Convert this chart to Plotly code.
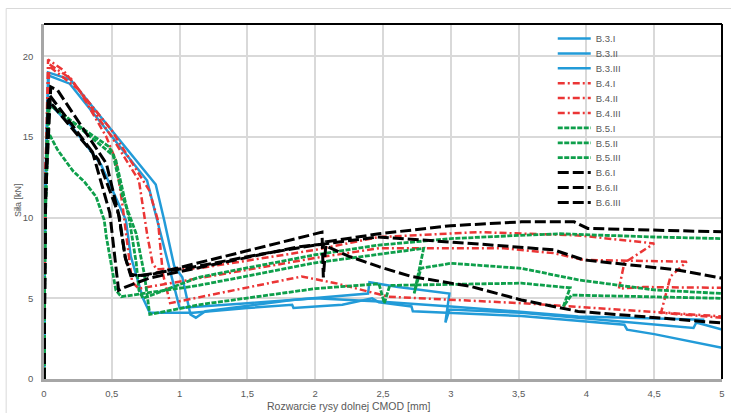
import plotly.graph_objects as go

# ---------------- data ----------------
series_names = ["B.3.I", "B.3.II", "B.3.III", "B.4.I", "B.4.II", "B.4.III",
                "B.5.I", "B.5.II", "B.5.III", "B.6.I", "B.6.II", "B.6.III"]

b3_1_x = [0, 0.008, 0.03, 0.195, 0.824, 0.886, 0.96, 1.02, 1.08, 1.12, 1.19, 1.83, 2.39, 2.40, 2.61, 2.99, 2.96, 2.99, 3.52, 4.79, 4.81, 5.0]
b3_1_y = [0, 10.0, 19.0, 18.55, 12.05, 9.85, 7.0, 6.3, 4.0, 3.8, 4.2, 4.9, 5.3, 6.0, 5.7, 5.3, 3.5, 4.3, 4.1, 3.16, 3.5, 3.06]
b3_2_x = [0, 0.008, 0.025, 0.21, 0.42, 0.604, 0.64, 0.73, 0.78, 1.1, 1.5, 1.83, 1.84, 2.2, 2.42, 2.47, 2.71, 2.72, 3.52, 4.28, 4.30, 4.5, 5.0]
b3_2_y = [0, 9.0, 17.2, 15.6, 13.3, 9.85, 7.6, 5.0, 4.1, 4.1, 4.4, 4.6, 4.4, 4.6, 5.0, 4.75, 4.5, 4.2, 3.9, 3.36, 3.06, 2.78, 1.93]
b3_3_x = [0, 0.008, 0.035, 0.19, 0.76, 0.83, 0.92, 0.97, 1.0, 1.5, 2.0, 2.47, 3.0, 3.94, 4.87]
b3_3_y = [0, 12.0, 18.8, 18.3, 12.3, 10.0, 7.0, 5.3, 4.4, 4.7, 5.0, 4.8, 4.5, 3.88, 3.67]

b4_1_x = [0, 0.01, 0.03, 0.14, 0.5, 0.775, 0.84, 0.876, 0.93, 1.4, 1.9, 2.15, 2.54, 3.52, 4.23, 5.0]
b4_1_y = [0, 12.0, 19.8, 19.15, 15.4, 11.7, 9.85, 6.55, 4.7, 5.5, 6.35, 5.94, 5.1, 4.7, 4.3, 3.88]
b4_2_x = [0, 0.01, 0.035, 0.26, 0.46, 0.53, 0.58, 0.62, 0.65, 0.7, 1.14, 2.0, 2.47, 3.39, 3.76, 3.98, 4.74, 4.62, 4.55, 5.0]
b4_2_y = [0, 11.0, 19.4, 17.9, 15.0, 13.55, 10.7, 8.0, 6.0, 5.6, 6.25, 7.5, 8.1, 8.1, 7.8, 7.38, 7.27, 6.35, 4.1, 3.8]
b4_3_x = [0, 0.01, 0.04, 0.2, 0.5, 0.70, 0.76, 0.80, 0.83, 1.14, 2.0, 2.47, 3.2, 3.94, 4.5, 4.28, 4.24, 4.42, 5.0]
b4_3_y = [0, 13.0, 19.5, 18.6, 15.0, 12.3, 9.0, 7.2, 6.8, 6.86, 8.0, 8.8, 9.1, 8.9, 8.4, 7.2, 5.6, 5.7, 5.65]

b5_1_x = [0, 0.008, 0.03, 0.2, 0.48, 0.53, 0.63, 0.68, 0.70, 0.73, 1.14, 2.0, 2.47, 3.0, 3.5, 3.8, 4.5, 5.0]
b5_1_y = [0, 10.0, 17.05, 16.0, 14.4, 13.55, 9.85, 7.2, 5.5, 5.0, 6.3, 7.7, 8.3, 8.7, 8.9, 9.0, 8.8, 8.7]
b5_2_x = [0, 0.008, 0.025, 0.1, 0.213, 0.3, 0.384, 0.444, 0.46, 0.5, 0.53, 0.57, 1.14, 2.0, 2.54, 2.8, 2.73, 2.78, 3.0, 3.52, 3.94, 4.5, 5.0]
b5_2_y = [0, 9.0, 15.4, 14.2, 12.9, 12.2, 11.3, 9.85, 8.8, 6.96, 5.5, 5.1, 5.8, 7.2, 7.8, 8.1, 5.3, 6.86, 7.17, 6.86, 6.14, 5.52, 5.3]
b5_3_x = [0, 0.008, 0.04, 0.2, 0.51, 0.58, 0.68, 0.74, 0.78, 1.14, 2.0, 2.47, 2.51, 2.55, 3.52, 3.88, 3.83, 3.89, 5.0]
b5_3_y = [0, 10.0, 17.1, 16.0, 13.86, 11.3, 9.0, 6.5, 4.0, 4.6, 5.6, 5.9, 4.7, 5.8, 5.94, 5.65, 4.5, 5.2, 5.0]

b6_1_x = [0, 0.01, 0.05, 0.1, 0.46, 0.555, 0.6, 0.64, 0.78, 1.14, 1.64, 2.05, 2.06, 2.08, 2.47, 3.0, 3.52, 3.91, 4.01, 5.0]
b6_1_y = [0, 11.0, 18.1, 17.9, 13.35, 10.05, 7.5, 6.4, 6.45, 7.2, 8.2, 9.1, 6.3, 8.5, 9.0, 9.5, 9.74, 9.74, 9.33, 9.12]
b6_2_x = [0, 0.01, 0.03, 0.36, 0.485, 0.53, 0.55, 0.6, 0.78, 1.14, 1.88, 2.05, 2.25, 2.47, 2.71, 3.15, 3.52, 3.94, 4.55, 5.0]
b6_2_y = [0, 10.0, 17.3, 14.0, 10.3, 7.0, 5.5, 5.7, 6.26, 6.9, 8.2, 8.35, 7.6, 6.96, 6.35, 5.73, 4.9, 4.19, 3.78, 3.47]
b6_3_x = [0, 0.01, 0.04, 0.4, 0.55, 0.6, 0.64, 0.7, 1.14, 1.64, 2.0, 2.46, 3.15, 3.76, 3.98, 4.67, 5.0]
b6_3_y = [0, 12.0, 17.6, 13.6, 10.2, 7.5, 6.5, 6.4, 7.0, 7.8, 8.3, 8.8, 8.4, 8.0, 7.38, 6.76, 6.25]

x_tick_vals = [0, 0.5, 1, 1.5, 2, 2.5, 3, 3.5, 4, 4.5, 5]
x_tick_text = ["0", "0,5", "1", "1,5", "2", "2,5", "3", "3,5", "4", "4,5", "5"]
y_tick_vals = [0, 5, 10, 15, 20]

# ---------------- styling ----------------
all_x = [b3_1_x, b3_2_x, b3_3_x, b4_1_x, b4_2_x, b4_3_x, b5_1_x, b5_2_x, b5_3_x, b6_1_x, b6_2_x, b6_3_x]
all_y = [b3_1_y, b3_2_y, b3_3_y, b4_1_y, b4_2_y, b4_3_y, b5_1_y, b5_2_y, b5_3_y, b6_1_y, b6_2_y, b6_3_y]

BLUE, RED, GREEN, BLACK = "#229BD8", "#EB3535", "#0E9F4B", "#000000"
group_style = [
    (BLUE, "solid", 2.5),
    (RED, "7px,3px,2px,3px", 2.5),
    (GREEN, "5px,1.5px", 2.8),
    (BLACK, "11px,4px", 3),
]

W, H = 731, 413
L, R, T, B = 44, 6, 24, 34
plot_w = W - L - R
plot_h = H - T - B

fig = go.Figure()
legend_layouts = {}
legend_first_py = 38.5
legend_step = 14.9
legend_left_px = 555

for i, name in enumerate(series_names):
    color, dash, width = group_style[i // 3]
    lname = "legend" if i == 0 else f"legend{i + 1}"
    fig.add_trace(go.Scatter(
        x=all_x[i], y=all_y[i], mode="lines", name=name,
        line=dict(color=color, dash=dash, width=width),
        legend=lname, showlegend=True,
    ))
    py = legend_first_py + i * legend_step
    legend_layouts[lname] = dict(
        x=(legend_left_px - L) / plot_w,
        y=(H - B - py) / plot_h,
        xanchor="left", yanchor="middle",
        bgcolor="rgba(0,0,0,0)", borderwidth=0,
        font=dict(family="Liberation Sans", size=9.5, color="#595959"),
        itemwidth=33, tracegroupgap=0,
    )

fig.update_layout(
    width=W, height=H,
    margin=dict(l=L, r=R, t=T, b=B),
    paper_bgcolor="white", plot_bgcolor="white",
    font=dict(family="Liberation Sans", size=9.5, color="#595959"),
    showlegend=True,
    **legend_layouts,
)

fig.update_xaxes(
    range=[0, 5], tickvals=x_tick_vals, ticktext=x_tick_text,
    showgrid=True, gridcolor="#D9D9D9", gridwidth=1.5,
    showline=True, linecolor="#A6A6A6", linewidth=2.5,
    ticks="outside", ticklen=4, tickcolor="rgba(0,0,0,0)",
    zeroline=False, tickfont=dict(size=9.5, color="#595959"),
)
fig.update_yaxes(
    range=[0, 22], tickvals=y_tick_vals,
    showgrid=True, gridcolor="#D9D9D9", gridwidth=1.5,
    showline=True, linecolor="#A6A6A6", linewidth=2.5,
    ticks="outside", ticklen=6, tickcolor="rgba(0,0,0,0)",
    zeroline=False, tickfont=dict(size=9.5, color="#595959"),
)

# frame: black top and right borders, light outer chart border
fig.add_shape(type="line", xref="paper", yref="paper", x0=0, x1=1, y0=1, y1=1,
              line=dict(color="black", width=2))
fig.add_shape(type="line", xref="paper", yref="paper", x0=1, x1=1, y0=0, y1=1,
              line=dict(color="black", width=2))
fig.add_shape(type="rect", xref="paper", yref="paper",
              x0=(6 - L) / plot_w, x1=(760 - L) / plot_w,
              y0=(H - B - 440) / plot_h, y1=(H - B - 8.5) / plot_h,
              line=dict(color="#D9D9D9", width=1), layer="below")

fig.add_annotation(text="Rozwarcie rysy dolnej CMOD [mm]", xref="paper", yref="paper",
                   x=(350 - L) / plot_w, y=(H - B - 406) / plot_h,
                   showarrow=False, xanchor="center", yanchor="middle",
                   font=dict(size=10.5, color="#595959"))
fig.add_annotation(text="Siła [kN]", xref="paper", yref="paper",
                   x=(18 - L) / plot_w, y=(H - B - 200) / plot_h, textangle=-90,
                   showarrow=False, xanchor="center", yanchor="middle",
                   font=dict(size=9, color="#595959"))

fig.write_html(
    "out.html",
    config={"displayModeBar": False},
    post_script="document.body.style.margin='0';document.body.style.overflow='hidden';",
)
